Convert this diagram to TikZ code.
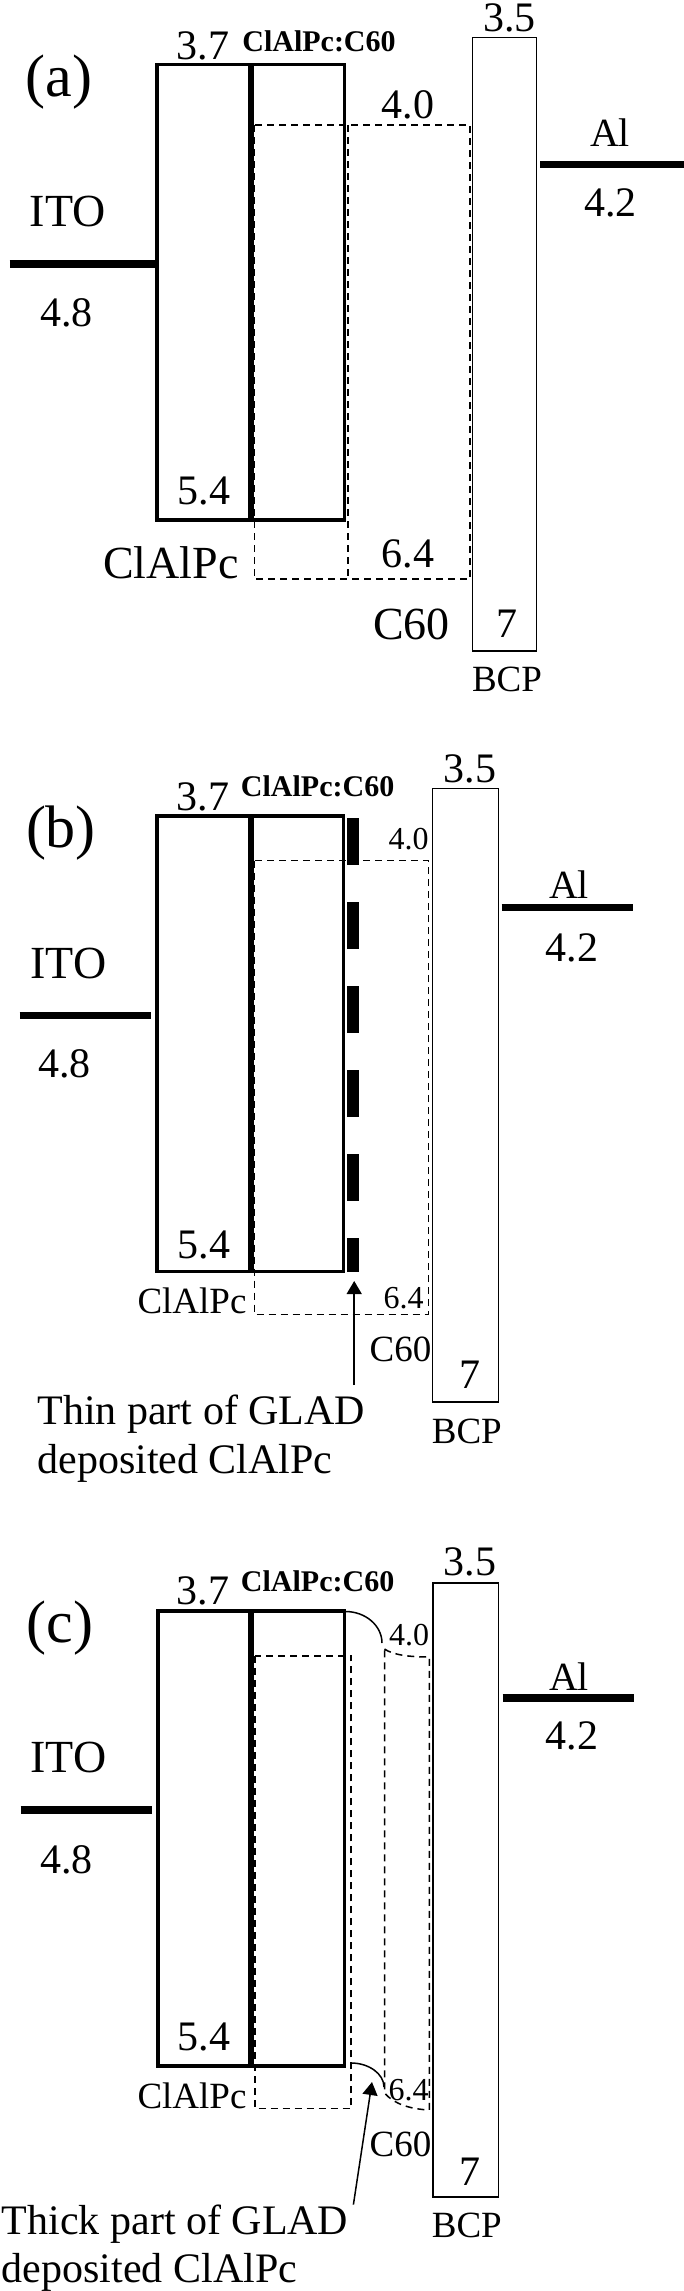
\documentclass[tikz,border=0pt]{standalone}
\usepackage{fontspec}
\setmainfont{Liberation Serif}
\usetikzlibrary{arrows.meta}
\tikzstyle{work function}=[line width=3.85pt]
\tikzstyle{organic}=[line width=1.75pt]
\tikzstyle{interface}=[line width=3pt]
\tikzstyle{blocker}=[line width=0.75pt]
\tikzstyle{orbital}=[line width=0.75pt, dash pattern=on 3.5pt off 2.5pt]
\tikzstyle{glad film}=[line width=6pt, dash pattern=on 23.5pt off 18.5pt]
\tikzstyle{pointer}=[line width=0.75pt, -{Triangle[width=7.5pt, length=6.5pt]}]
\tikzstyle{panel}=[inner sep=0, font=\fontsize{30}{36}\selectfont]
\tikzstyle{energy}=[inner sep=0, font=\fontsize{21}{25}\selectfont]
\tikzstyle{small energy}=[inner sep=0, font=\fontsize{16}{19}\selectfont]
\tikzstyle{material}=[inner sep=0, font=\fontsize{23}{27}\selectfont]
\tikzstyle{metal}=[inner sep=0, font=\fontsize{20}{24}\selectfont]
\tikzstyle{small material}=[inner sep=0, font=\fontsize{18.5}{22}\selectfont]
\tikzstyle{blend}=[inner sep=0, font=\bfseries\fontsize{15}{18}\selectfont]
\tikzstyle{note}=[inner sep=0, align=left, font=\fontsize{21}{24.3}\selectfont]

\begin{document}
\begin{tikzpicture}[x=0.5pt, y=-0.5pt]
          \useasboundingbox (0, 0) rectangle (684, 2291);

          \node[panel] (a_tag) at (59, 82) {(a)};
          \draw[organic] (157, 64.6) rectangle (344.6, 520);
          \draw[interface] (251.3, 64.6) -- (251.3, 520);
          \draw[orbital] (254.3, 125) rectangle (470, 579);
          \draw[orbital] (348, 125) -- (348, 579);
          \draw[blocker] (472.4, 37.5) rectangle (536.6, 651);
          \draw[work function] (9.6, 264) -- (155.7, 264);
          \draw[work function] (540, 164.5) -- (684, 164.5);
          \node[energy] (a_lumo_donor) at (203, 45.8) {3.7};
          \node[blend] (a_blend) at (319, 41.4) {ClAlPc:C60};
          \node[energy] (a_lumo_bcp) at (509.5, 17.5) {3.5};
          \node[energy] (a_lumo_c60) at (408, 104.7) {4.0};
          \node[metal] (a_al) at (610, 133) {Al};
          \node[energy] (a_wf_al) at (610.7, 203) {4.2};
          \node[material] (a_ito) at (67.6, 211.6) {ITO};
          \node[energy] (a_wf_ito) at (66.3, 313) {4.8};
          \node[energy] (a_homo_donor) at (204, 490.8) {5.4};
          \node[material] (a_donor) at (171, 562.7) {ClAlPc};
          \node[energy] (a_homo_c60) at (408, 554) {6.4};
          \node[material] (a_c60) at (411.4, 624.7) {C60};
          \node[energy] (a_homo_bcp) at (507.3, 623.8) {7};
          \node[small material] (a_bcp) at (507, 679) {BCP};

          \node[panel] (b_tag) at (61, 833) {(b)};
          \draw[organic] (157, 816) rectangle (343.3, 1271.6);
          \draw[interface] (251.3, 816) -- (251.3, 1271.6);
          \draw[glad film] (353.4, 818) -- (353.4, 1271.6);
          \draw[orbital] (254.3, 860.7) rectangle (428.4, 1314.3);
          \draw[blocker] (432.7, 788.7) rectangle (498.6, 1402);
          \draw[work function] (19.6, 1015.5) -- (151.4, 1015.5);
          \draw[work function] (501.7, 907.4) -- (633.4, 907.4);
          \node[energy] (b_lumo_donor) at (203, 796.5) {3.7};
          \node[blend] (b_blend) at (317.6, 786.5) {ClAlPc:C60};
          \node[energy] (b_lumo_bcp) at (470, 769) {3.5};
          \node[small energy] (b_lumo_c60) at (408.7, 839) {4.0};
          \node[metal] (b_al) at (569, 884.7) {Al};
          \node[energy] (b_wf_al) at (572, 948) {4.2};
          \node[material] (b_ito) at (68.5, 963) {ITO};
          \node[energy] (b_wf_ito) at (64.6, 1064) {4.8};
          \node[energy] (b_homo_donor) at (204, 1244.5) {5.4};
          \node[small material] (b_donor) at (192, 1301) {ClAlPc};
          \node[small energy] (b_homo_c60) at (403.5, 1298) {6.4};
          \node[small material] (b_c60) at (400.5, 1349) {C60};
          \node[energy] (b_homo_bcp) at (470, 1375) {7};
          \node[small material] (b_bcp) at (466.8, 1431) {BCP};
          \node[note, anchor=north west] (b_note) at (37, 1395) {Thin part of GLAD\\deposited ClAlPc};
          \coordinate (b_tail) at (354.2, 1385);
          \coordinate (b_glad) at (354.2, 1281);
          \draw[pointer] (b_tail) -- (b_glad);

          \node[panel] (c_tag) at (60, 1627.6) {(c)};
          \draw[organic] (158, 1611) rectangle (344.6, 2066);
          \draw[interface] (251.3, 1611) -- (251.3, 2066);
          \draw[orbital] (255.2, 1656) rectangle (351.2, 2108.7);
          \draw[orbital] (384.5, 1649) .. controls (393, 1655) and (410, 1657) .. (429.3, 1657)
            -- (429.3, 2110) .. controls (410, 2109) and (394, 2104) .. (384.5, 2093) -- cycle;
          \draw[blocker] (345.5, 1611.5) .. controls (365.6, 1611.5) and (382, 1625.7) .. (382, 1643);
          \draw[blocker] (351.2, 2063) .. controls (368.8, 2063) and (384, 2073.8) .. (384, 2087);
          \draw[blocker] (433, 1583) rectangle (498.6, 2197);
          \draw[work function] (20.5, 1809.8) -- (151.8, 1809.8);
          \draw[work function] (502.5, 1697.7) -- (633.8, 1697.7);
          \node[energy] (c_lumo_donor) at (203, 1590.5) {3.7};
          \node[blend] (c_blend) at (317.6, 1581) {ClAlPc:C60};
          \node[energy] (c_lumo_bcp) at (470, 1562) {3.5};
          \node[small energy] (c_lumo_c60) at (409, 1635.4) {4.0};
          \node[metal] (c_al) at (569, 1676.8) {Al};
          \node[energy] (c_wf_al) at (572, 1735.7) {4.2};
          \node[material] (c_ito) at (68.5, 1757.5) {ITO};
          \node[energy] (c_wf_ito) at (66.3, 1860) {4.8};
          \node[energy] (c_homo_donor) at (204, 2036.7) {5.4};
          \node[small material] (c_donor) at (192, 2095.6) {ClAlPc};
          \node[small energy] (c_homo_c60) at (408.7, 2090.3) {6.4};
          \node[small material] (c_c60) at (400.5, 2144.4) {C60};
          \node[energy] (c_homo_bcp) at (470, 2172) {7};
          \node[small material] (c_bcp) at (466.8, 2225.6) {BCP};
          \node[note, anchor=north west] (c_note) at (1.5, 2204.3) {Thick part of GLAD\\deposited ClAlPc};
          \coordinate (c_tail) at (353.4, 2204.6);
          \coordinate (c_glad) at (372, 2082);
          \draw[pointer] (c_tail) -- (c_glad);
        \end{tikzpicture}
\end{document}
